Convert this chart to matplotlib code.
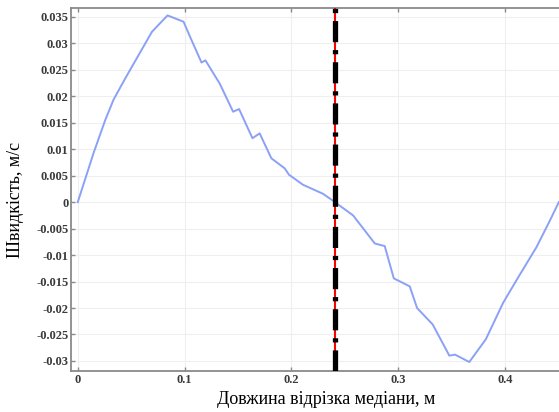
import matplotlib.pyplot as plt
import matplotlib.ticker as mticker

plt.matplotlib.rcParams.update({'font.family': 'Liberation Serif', 'font.size': 9})

# median segment length, m
length = [0.0, 0.0150, 0.0259, 0.0336, 0.0445, 0.0570, 0.0695, 0.0841, 0.0991,
          0.1051, 0.1159, 0.1196, 0.1330, 0.1455, 0.1511, 0.1636, 0.1704, 0.1813,
          0.1938, 0.1978, 0.2109, 0.2296, 0.2389, 0.2579, 0.2782, 0.2875, 0.2960,
          0.3109, 0.3178, 0.3324, 0.3480, 0.3533, 0.3667, 0.3822, 0.3984, 0.4125,
          0.4296, 0.4421, 0.4505]
# velocity, m/s
velocity = [0.0, 0.0094, 0.0156, 0.0194, 0.0234, 0.0278, 0.0322, 0.0353, 0.0341,
            0.0313, 0.0264, 0.0268, 0.0224, 0.0171, 0.0176, 0.0121, 0.0130, 0.0083,
            0.0064, 0.0052, 0.0033, 0.0016, 0.0003, -0.0025, -0.0078, -0.0083, -0.0144,
            -0.0159, -0.0200, -0.0231, -0.0290, -0.0288, -0.0302, -0.0259, -0.0190, -0.0142,
            -0.0085, -0.0035, 0.0]

# position of the marker line
x_mark = 0.241

x_ticks = [0, 0.1, 0.2, 0.3, 0.4]
y_ticks = [0.035, 0.03, 0.025, 0.02, 0.015, 0.01, 0.005, 0,
           -0.005, -0.01, -0.015, -0.02, -0.025, -0.03]

AXIS_COLOR = '#8a8a8a'
TEXT_COLOR = '#3a3a3a'


def draw_figure():
    fig = plt.figure(figsize=(5.59, 4.12), dpi=100, facecolor='white')
    ax = fig.add_axes([0.1276, 0.0995, 0.8724, 0.8811])

    ax.plot(length, velocity, color='#8ba0f7', linewidth=1.4, zorder=3)

    # red line under a thick black dash-dot line
    ax.axvline(x_mark, color='red', linewidth=1.5, zorder=4)
    ax.axvline(x_mark, color='black', linewidth=3.8, zorder=5,
               linestyle=(0, (4.0, 1.5, 0.8, 1.5)), dash_capstyle='butt')

    ax.set_xlim(-0.0060, 0.4507)
    ax.set_ylim(-0.0319, 0.0367)
    ax.set_xticks(x_ticks)
    ax.set_yticks(y_ticks)
    ax.xaxis.set_major_formatter(mticker.FuncFormatter(lambda v, p: '%g' % v))
    ax.yaxis.set_major_formatter(mticker.FuncFormatter(lambda v, p: '%g' % v))

    ax.grid(True, color='#efefef', linewidth=0.8)
    ax.set_axisbelow(True)
    ax.tick_params(direction='in', length=3, width=1, color=AXIS_COLOR,
                   labelcolor=TEXT_COLOR, labelsize=9, top=True, pad=2)
    for lbl in ax.get_xticklabels() + ax.get_yticklabels():
        lbl.set_fontweight('bold')

    for side in ['left', 'bottom', 'top']:
        ax.spines[side].set_color(AXIS_COLOR)
        ax.spines[side].set_linewidth(1.3)
    ax.spines['right'].set_visible(False)

    fig.text(326 / 559, 1 - 400 / 412, 'Довжина відрізка медіани, м',
             ha='center', va='center', fontsize=13, color='black')
    fig.text(16 / 559, 1 - 200 / 412, 'Швидкість, м/с', rotation=90,
             ha='center', va='center', fontsize=13, color='black')

    fig.savefig('out.png', dpi=100, facecolor='white')


if __name__ == '__main__':
    draw_figure()
